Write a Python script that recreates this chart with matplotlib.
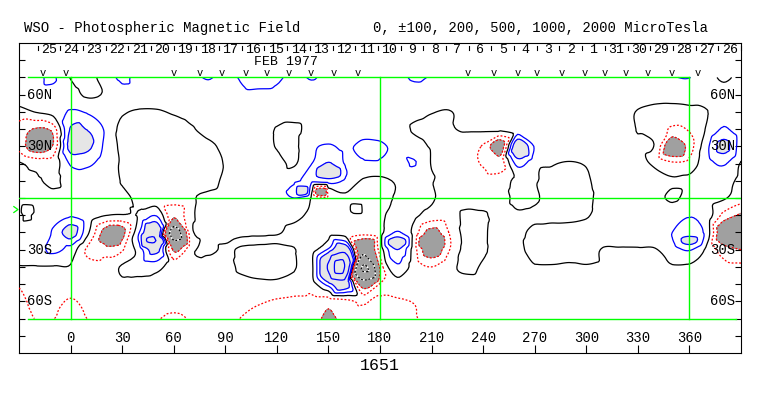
import numpy as np
import matplotlib

matplotlib.use("Agg")
import matplotlib.pyplot as plt
import matplotlib.tri as mtri

# field values in microTesla on a 10 degree grid
lons = list(range(-30, 391, 10))
lats = [70, 60, 50, 40, 30, 20, 10, 0, -10, -20, -30, -40, -50, -60, -70]
field = [
    [60, 80, 110, -5, -40, 50, 115, 70, 60, 60, 80, 105, 80, 110, 140, 115, 80, 105, 80, 70, 60, 70, 80, 108, 95, 80, 60, 60, 60, 60, 60, 60, 60, 60, 60, 60, 70, 80, 95, 102, 50, -20, 40],
    [50, 60, 70, 40, -15, 10, 70, 60, 60, 60, 60, 70, 70, 85, 80, 80, 70, 70, 60, 55, 55, 60, 60, 70, 65, 55, 50, 50, 50, 50, 50, 50, 50, 50, 50, 50, 45, 40, 40, 45, 50, 40, 40],
    [-40, 5, 30, 110, 90, 40, 10, -10, -10, 10, 30, 40, 40, 50, 50, 50, 50, 45, 45, 45, 45, 40, 40, 30, 5, -5, 30, 40, 40, 40, 40, 40, 40, 40, 40, 30, -5, -30, -40, -30, -5, 80, 30],
    [-130, -210, -150, 210, 190, 90, -30, -40, -40, -40, -10, 30, 40, 40, 40, -5, -20, 30, 40, 50, 50, 50, 40, -10, -30, -10, 10, 15, 20, 50, 40, 40, 40, 40, 40, 40, -5, -50, -110, -90, 10, 110, 30],
    [-130, -280, -180, 250, 230, 80, -20, -40, -40, -40, -40, -20, 20, 40, 40, -5, -20, 80, 110, 80, 130, 120, 70, 40, -10, -30, -60, -110, -280, 320, 90, 40, 40, 40, 40, 30, 20, -10, -320, -150, 70, 240, 40],
    [15, -40, -60, 110, 120, 50, -10, -40, -40, -40, -40, -30, 5, 40, 40, 30, -10, 95, 210, 90, 80, 80, 60, 105, -5, -30, -60, -110, -150, 130, 30, 5, -5, 5, 30, 30, 30, -20, -80, -60, 60, 110, -10],
    [30, 20, -30, 60, 50, 40, -5, -40, -40, -40, -40, -30, 15, 40, 40, 40, 80, 120, 150, 80, -10, -20, 10, 30, 5, -30, -40, -50, -40, 20, 5, -20, -30, -10, 30, 40, 40, 30, 10, 20, 30, 40, -30],
    [30, 30, 40, 50, 40, 30, 20, -20, -40, -40, -10, 20, 30, 40, 40, 40, 100, -5, -80, -20, -30, -30, 10, 30, 10, -40, -50, -40, -30, 20, 10, -30, -40, -20, 30, 40, 40, 30, -15, 30, 30, 10, -60],
    [20, 20, 60, 90, 50, 5, -5, 10, 90, -180, -20, 30, 40, 40, 40, 40, 30, -20, -40, -30, -20, -20, 50, 20, -40, -50, 20, 10, -30, -10, -15, -30, -30, -10, 40, 50, 50, 60, 60, 95, 60, -130, -220],
    [40, 60, 110, 260, 20, -250, -250, 100, 350, -650, -40, 30, 40, 20, 15, 10, -30, -50, -40, -40, -60, -30, 110, -40, -250, -100, 30, 10, -30, -20, 20, 40, 40, 40, 40, 40, 40, 60, 100, 150, 60, -330, -300],
    [40, 60, 120, 60, -120, -150, -110, 50, 250, -220, -30, 20, -15, 15, 30, 30, 5, -40, 120, 350, -400, -60, 200, -60, -300, -110, 30, 10, -30, -20, 30, 30, 30, 30, -5, -5, -5, -5, 50, 110, -20, -150, -200],
    [-5, -5, -5, -5, -60, -60, 10, 40, 40, -60, -30, -40, -30, 20, 40, 40, 10, -30, 550, 900, -1050, -180, 80, -50, -100, -30, 20, -10, -40, -10, -5, -5, -10, -5, -10, -10, -10, -10, -5, -10, -40, -80, -80],
    [-90, -60, -40, -50, -40, -40, -20, -30, -40, -50, -40, -40, -40, -30, -20, -20, -40, -50, 150, 300, -300, -90, -30, -40, -40, -30, -30, -30, -40, -40, -40, -40, -40, -40, -40, -40, -40, -40, -50, -50, -60, -60, -60],
    [-120, -80, -70, -110, -70, -50, -50, -60, -60, -70, -60, -50, -50, -70, -90, -110, -120, -130, -150, -130, -85, -130, -115, -95, -70, -50, -50, -50, -50, -50, -50, -50, -50, -50, -50, -50, -50, -50, -50, -50, -50, -50, -50],
    [-130, -98, -98, -140, -98, -70, -70, -85, -95, -115, -95, -80, -70, -105, -130, -130, -130, -140, -230, -150, -140, -140, -130, -105, -80, -60, -60, -60, -60, -60, -60, -60, -60, -60, -60, -60, -60, -60, -60, -60, -60, -60, -60],
]

# extra points at the centres of the small strong regions
extra_lon = [5, -16, 151, 135, 146, 175, 157, 48, 25, 190, 209, 361, 168, -25, 100, 110, 120]
extra_lat = [34, 34, 15, 3, 3, 27, -40, -24, -22, -26, -26, -25, -8, -8, -25, -25, -24]
extra_val = [330, -380, 320, 280, -320, 160, 1300, 560, -370, 300, -400, 240, 20, -25, -15, -15, -15]

pos_levels = [100, 200, 500, 1000, 2000]
neg_levels = [-200, -100]
strong_neg_levels = [-2000, -1000, -500]

# top annotation: carrington days and observation marks
day_labels = [25, 24, 23, 22, 21, 20, 19, 18, 17, 16, 15, 14, 13, 12, 11, 10,
              9, 8, 7, 6, 5, 4, 3, 2, 1, 31, 30, 29, 28, 27, 26]
obs_lons = [-16, -3, 60, 75, 88, 102, 114, 127, 140, 153, 167,
            231, 246, 260, 271, 286, 299, 311, 323, 336, 350, 365]
lon_ticks = list(range(0, 361, 30))
lat_labels = {60: "60N", 30: "30N", -30: "30S", -60: "60S"}

W, H = 763, 396
FONT = "Liberation Mono"
GREEN = "#00ff00"

fig = plt.figure(figsize=(W / 100, H / 100), dpi=100)
ax = fig.add_axes([19 / W, 1 - 353 / H, 722 / W, 310 / H])
ax.set_xlim(-30, 390)
ax.set_ylim(-90, 90)

lon_g, lat_g = np.meshgrid(lons, lats)
px = np.concatenate([lon_g.ravel(), extra_lon]).astype(float)
py = np.concatenate([lat_g.ravel(), extra_lat]).astype(float)
pz = np.concatenate([np.array(field, dtype=float).ravel(), extra_val])

tri = mtri.Triangulation(px, py)
interp = mtri.CubicTriInterpolator(tri, pz, kind="geom")
refiner = mtri.UniformTriRefiner(tri)
tri_f, z_f = refiner.refine_field(pz, triinterpolator=interp, subdiv=3)

ax.tricontourf(tri_f, z_f, levels=[200, 1e5], colors=["#e6e6e6"], zorder=1)
ax.tricontourf(tri_f, z_f, levels=[-1e5, -200], colors=["#a0a0a0"], zorder=1)
ax.tricontour(tri_f, z_f, levels=[0], colors="black", linewidths=0.9, zorder=3)
ax.tricontour(tri_f, z_f, levels=pos_levels, colors="#0000ff", linewidths=0.9, zorder=3)
ax.tricontour(tri_f, z_f, levels=neg_levels, colors="#ff0000", linewidths=0.9,
              linestyles=[(0, (1.5, 1.5))], zorder=3)
ax.tricontour(tri_f, z_f, levels=strong_neg_levels, colors="white", linewidths=1.1, zorder=3)
ax.tricontour(tri_f, z_f, levels=strong_neg_levels, colors="black", linewidths=0.9,
              linestyles=[(0, (1.5, 1.5))], zorder=3)

# green reference lines
ax.plot([-25, 360], [70, 70], color=GREEN, lw=1, zorder=4)
ax.plot([-30, 390], [0, 0], color=GREEN, lw=1, zorder=4)
ax.plot([-25, 387], [-70, -70], color=GREEN, lw=1, zorder=4)
for lon in (0, 180, 360):
    ax.plot([lon, lon], [-70, 70], color=GREEN, lw=1, zorder=4)
ax.plot([-33, -30.6, -33], [-5, -6.7, -8.4], color=GREEN, lw=0.9, clip_on=False)

# frame and ticks
for sp in ax.spines.values():
    sp.set_linewidth(0.8)
ax.set_xticks(lon_ticks)
ax.set_xticklabels([])
ax.set_yticks(range(-80, 81, 10))
ax.set_yticklabels([])
ax.tick_params(axis="x", direction="in", length=5.8, width=0.8, top=False)
ax.tick_params(axis="y", direction="in", length=4.3, width=0.8, left=True, right=True)

txt = dict(family=FONT, fontsize=10, color="black")
for lon in lon_ticks:
    ax.text(lon, -81, str(lon), ha="center", va="center", zorder=5, **txt)
for lat, lab in lat_labels.items():
    ax.text(-25.3, lat, lab, ha="left", va="center", zorder=5, **txt)
    ax.text(386.8, lat, lab, ha="right", va="center", zorder=5, **txt)

for i in range(len(day_labels) + 1):
    t = -19.2 + 13.2 * i
    ax.plot([t, t], [88.2, 86.0], color="black", lw=0.8, clip_on=False)
for i, d in enumerate(day_labels):
    ax.text(-12.6 + 13.2 * i, 86.2, str(d), ha="center", va="center",
            family=FONT, fontsize=9.5)
ax.text(125.5, 78.9, "FEB 1977", ha="center", va="center", family=FONT, fontsize=9.5)
for lon in obs_lons:
    ax.text(lon, 72.6, "v", ha="center", va="center", family=FONT, fontsize=7.5)

fig.text(24 / W, 1 - 28 / H, "WSO - Photospheric Magnetic Field", ha="left", va="center", **txt)
fig.text(373 / W, 1 - 28 / H, "0, \u00b1100, 200, 500, 1000, 2000 MicroTesla", ha="left", va="center", **txt)
fig.text(380 / W, 1 - 366 / H, "1651", ha="center", va="center", family=FONT, fontsize=12)

fig.savefig("out.png", dpi=100)
